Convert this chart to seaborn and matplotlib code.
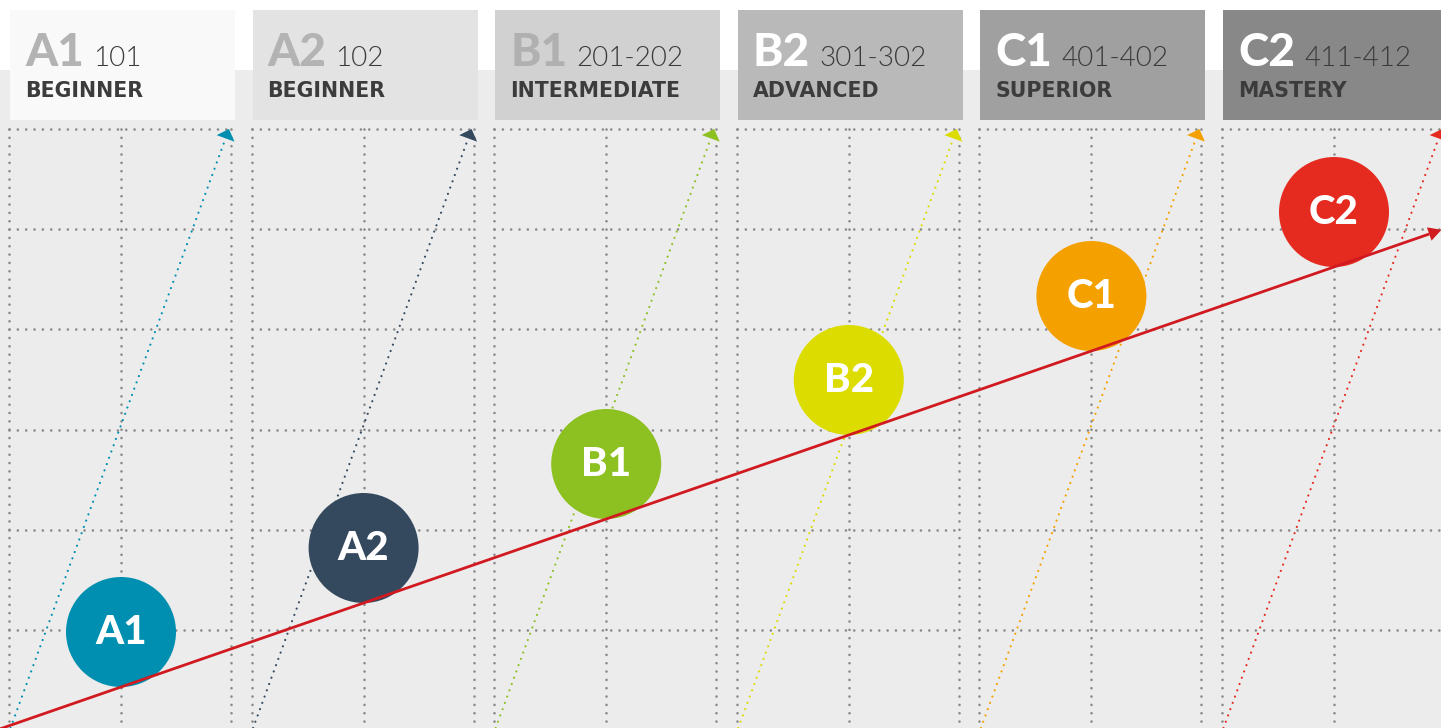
import numpy as np
import pandas as pd
import matplotlib.pyplot as plt
from matplotlib.patches import Rectangle, Polygon
import seaborn as sns

# ---------------------------------------------------------------- data
levels = ["A1", "A2", "B1", "B2", "C1", "C2"]
courses = ["101", "102", "201-202", "301-302", "401-402", "411-412"]
stages = ["BEGINNER", "BEGINNER", "INTERMEDIATE", "ADVANCED", "SUPERIOR", "MASTERY"]
step = [0, 1, 2, 3, 4, 5]

level_colors = ["#008fb0", "#34495e", "#8dc021", "#dcdc00", "#f4a100", "#e52b20"]
box_colors = ["#f9f9f9", "#e3e3e3", "#d1d1d1", "#b9b9b9", "#a0a0a0", "#888888"]
code_colors = ["#b3b3b3", "#b3b3b3", "#b0b0b0", "#ffffff", "#ffffff", "#ffffff"]

# ---------------------------------------------------------------- layout
W, H = 1441, 728
PITCH = 242.6
COL0 = 9
COL_W = 222
R = 55
TREND_RED = "#d11a1f"

sns.set_theme(style="white")
plt.rcParams["font.family"] = ["DejaVu Sans"]

fig = plt.figure(figsize=(W / 100, H / 100), dpi=100)
fig.patch.set_facecolor("white")
ax = fig.add_axes([0, 0, 1, 1])

df = pd.DataFrame({"level": levels, "step": step})
df["left"] = COL0 + PITCH * df["step"]
df["cx"] = df["left"] + COL_W / 2 + 1
df["cy"] = 632 - 84 * df["step"]

# grey canvas below the white strip
ax.axhspan(70, H, color="#ececec", zorder=0, lw=0)


def head(tip, tail, length, half_w, color, z):
    tip = np.asarray(tip, float)
    u = tip - np.asarray(tail, float)
    u /= np.hypot(*u)
    n = np.array([-u[1], u[0]])
    base = tip - length * u
    ax.add_patch(Polygon([tip, base + half_w * n, base - half_w * n],
                         closed=True, color=color, lw=0, zorder=z))
    return base


rows = np.linspace(129, 630, 6)
for i, lv in enumerate(levels):
    L = df.loc[i, "left"]

    # header box
    ax.add_patch(Rectangle((L + 1, 10), 225, 110, color=box_colors[i], lw=0, zorder=1))

    # dotted grid of the column
    for gx in [L, L + COL_W / 2 + 1, L + COL_W]:
        ax.plot([gx, gx], [rows[0], H], color="#888888", lw=1.9,
                dashes=(0.01, 3.15), dash_capstyle="round", zorder=2)
    for gy in rows:
        ax.plot([L, L + COL_W], [gy, gy], color="#888888", lw=1.9,
                dashes=(0.01, 3.15), dash_capstyle="round", zorder=2)

    # coloured dotted arrow climbing the column
    start = (L + 1.5, H)
    tip = (L + 220, 129)
    base = head(tip, start, 10, 9.5, level_colors[i], 3)
    ax.plot([start[0], base[0]], [start[1], base[1]], color=level_colors[i],
            lw=1.6, dashes=(0.01, 3.0), dash_capstyle="round", zorder=3)

    # header texts
    code = ax.text(L + 16, 66, lv, fontsize=33, fontfamily="Lato", fontweight=900,
                   color=code_colors[i], va="baseline", ha="left", zorder=7)
    ax.annotate(courses[i], xy=(1, 66), xycoords=(code, "data"), xytext=(9, 0),
                textcoords="offset pixels", fontsize=20, fontfamily="Lato",
                fontweight=300, color="#3a3a3a", va="baseline", ha="left", zorder=7)
    ax.text(L + 16, 97, stages[i], fontsize=14.8, fontweight="bold",
            color="#3c3c3c", va="baseline", ha="left", zorder=7)

# level circles
sns.scatterplot(data=df, x="cx", y="cy", hue="level",
                palette=dict(zip(levels, level_colors)),
                s=(2 * R * 0.72) ** 2, linewidth=0, legend=False, ax=ax, zorder=4)

for _, r in df.iterrows():
    ax.text(r["cx"], r["cy"] + 1, r["level"], fontsize=29, fontfamily="Lato",
            fontweight=900, color="white", ha="center", va="center", zorder=6)

# red progression line touching the bottom of every circle
k, b = np.polyfit(df["cx"], df["cy"] + R, 1)
tip = (W + 0.5, k * (W + 0.5) + b)
base = head(tip, (0, b), 13, 7, TREND_RED, 5)
ax.plot([0, base[0]], [b, base[1]], color=TREND_RED, lw=2.0,
        solid_capstyle="butt", zorder=5)

ax.set_xlim(0, W)
ax.set_ylim(H, 0)
ax.axis("off")

fig.savefig("out.png", dpi=100, facecolor="white")
